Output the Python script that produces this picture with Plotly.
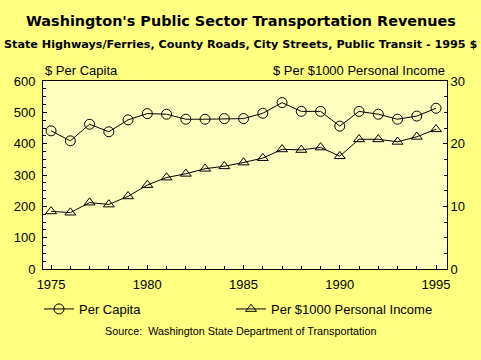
import plotly.graph_objects as go

years = list(range(1975, 1996))
per_capita = [441, 409, 462, 438, 476, 496, 494, 478, 478, 480, 480, 497, 531, 503, 503, 456, 503, 494, 478, 488, 513]
per_income = [9.2, 9.0, 10.6, 10.3, 11.6, 13.4, 14.6, 15.2, 16.0, 16.4, 17.0, 17.7, 19.1, 19.0, 19.4, 18.0, 20.7, 20.7, 20.3, 21.1, 22.3]

title = "Washington's Public Sector Transportation Revenues"
subtitle = "State Highways/Ferries, County Roads, City Streets, Public Transit - 1995 $"
left_title = "$ Per Capita"
right_title = "$ Per $1000 Personal Income"
source = "Source:  Washington State Department of Transportation"

fig = go.Figure()
fig.add_trace(go.Scatter(
    x=years, y=per_capita, name="Per Capita", mode="lines+markers",
    line=dict(color="black", width=1),
    marker=dict(symbol="circle-open", size=10, color="black", line=dict(width=1)),
))
fig.add_trace(go.Scatter(
    x=years, y=per_income, name="Per $1000 Personal Income", mode="lines+markers",
    yaxis="y2", legendwidth=163,
    line=dict(color="black", width=1),
    marker=dict(symbol="triangle-up-open", size=9.5, color="black", line=dict(width=1)),
))

tickfont = dict(family="Liberation Sans, Arial, sans-serif", size=13, color="black")
legfont = dict(family="Liberation Sans, Arial, sans-serif", size=13, color="black")
cx = (240.5 - 43) / 404

fig.update_layout(
    width=481, height=360,
    paper_bgcolor="#FFFF80", plot_bgcolor="#FFFFC0",
    margin=dict(l=43, r=34, t=81, b=91, autoexpand=False),
    showlegend=True,
    legend=dict(orientation="h", xref="container", yref="container",
                x=39 / 481, y=1 - 309 / 360, xanchor="left", yanchor="middle",
                entrywidth=147, entrywidthmode="pixels", itemwidth=30,
                font=legfont, bgcolor="rgba(0,0,0,0)"),
    xaxis=dict(range=[1974.58, 1995.57], tickmode="linear", tick0=1975, dtick=5,
               ticks="inside", ticklen=4, tickcolor="black", tickwidth=1,
               ticklabelstandoff=3,
               minor=dict(dtick=1, ticks="inside", ticklen=3, tickcolor="black"),
               showline=True, linecolor="black", linewidth=1, mirror=True,
               showgrid=False, zeroline=False, tickfont=tickfont),
    yaxis=dict(range=[0, 600], tickmode="linear", dtick=100,
               ticks="inside", ticklen=4, tickcolor="black",
               ticklabelstandoff=4,
               minor=dict(dtick=25, ticks="inside", ticklen=3, tickcolor="black"),
               showline=True, linecolor="black", linewidth=1,
               showgrid=False, zeroline=False, tickfont=tickfont),
    yaxis2=dict(range=[0, 30], tickmode="linear", dtick=10, overlaying="y", side="right",
                ticks="inside", ticklen=4, tickcolor="black",
                minor=dict(dtick=2.5, ticks="inside", ticklen=3, tickcolor="black"),
                showline=True, linecolor="black", linewidth=1,
                showgrid=False, zeroline=False, tickfont=tickfont),
    annotations=[
        dict(text="<b>" + title + "</b>", xref="paper", yref="paper", x=cx, y=1,
             xanchor="center", yanchor="middle", showarrow=False,
             font=dict(family="DejaVu Sans, sans-serif", size=14.4, color="black"),
             yshift=81 - 21),
        dict(text="<b>" + subtitle + "</b>", xref="paper", yref="paper", x=cx, y=1,
             xanchor="center", yanchor="middle", showarrow=False,
             font=dict(family="DejaVu Sans, sans-serif", size=11.2, color="black"),
             yshift=81 - 44),
        dict(text=left_title, xref="paper", yref="paper", x=0, y=1,
             xanchor="left", yanchor="middle", showarrow=False,
             font=tickfont, yshift=81 - 70),
        dict(text=right_title, xref="paper", yref="paper", x=1, y=1,
             xanchor="right", yanchor="middle", showarrow=False,
             font=tickfont, yshift=81 - 70),
        dict(text=source, xref="paper", yref="paper", x=cx, y=0,
             xanchor="center", yanchor="middle", showarrow=False,
             font=dict(family="Liberation Sans, Arial, sans-serif", size=10.8, color="black"),
             yshift=-(331 - 269)),
    ],
)

fig.write_html("out.html", config={"displayModeBar": False},
               post_script="document.body.style.margin='0';")
